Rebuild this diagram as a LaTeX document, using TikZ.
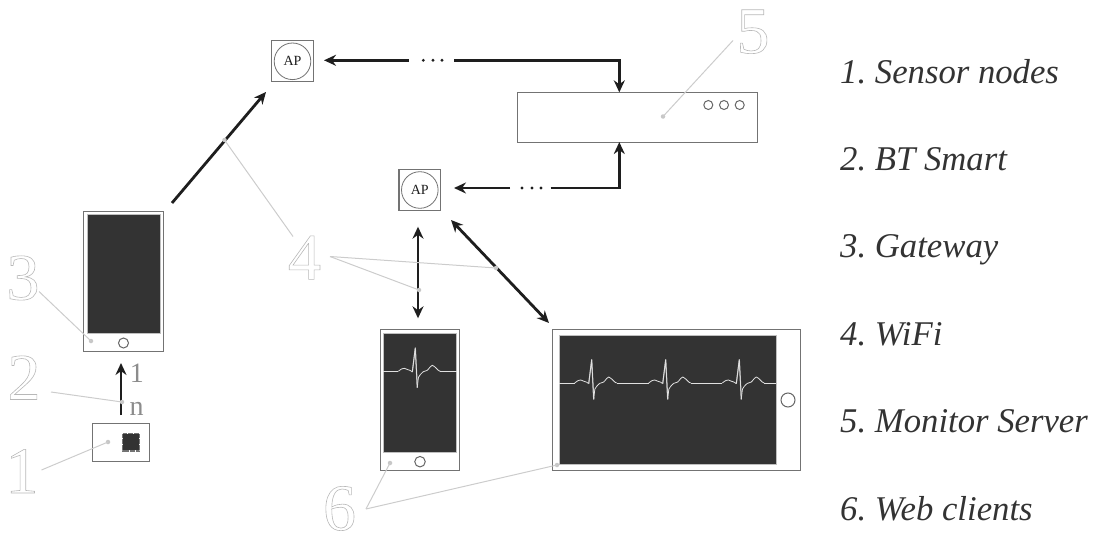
\documentclass[tikz,border=0pt]{standalone}
\usepackage{fontspec}
\setmainfont{Liberation Serif}
\usetikzlibrary{arrows.meta}
\frenchspacing
\newcommand\outlinedigit[1]{\special{pdf:code q 1 Tr 0.6 w 0.72 0.72 0.72 RG}#1\special{pdf:code Q}}
\definecolor{screen}{HTML}{333333}
\definecolor{ink}{HTML}{1E1E1E}
\tikzset{
  box/.style={draw=black!55,line width=1.1pt,fill=white,inner sep=0pt,outer sep=0pt,rectangle},
  screenbox/.style={fill=screen,draw=black!25,line width=.6pt,inner sep=0pt,outer sep=0pt,rectangle},
  knob/.style={circle,draw=black!60,line width=1pt,fill=white,inner sep=0pt,outer sep=0pt},
  apcircle/.style={circle,draw=black!55,line width=.8pt,inner sep=0pt,outer sep=0pt,minimum size=36.6pt,font=\fontsize{14}{14}\selectfont,text=ink},
  link/.style={draw=ink,line width=2.8pt,-{Stealth[length=12pt,width=11pt]}},
  both/.style={draw=ink,line width=2.8pt,{Stealth[length=12pt,width=11pt]}-{Stealth[length=12pt,width=11pt]}},
  leader/.style={draw=black!20,line width=1pt},
  leaderdot/.style={circle,fill=black!22,inner sep=0pt,minimum size=4.5pt},
  gapdot/.style={circle,fill=ink,inner sep=0pt,minimum size=3.2pt},
  bignum/.style={font=\fontsize{66}{66}\selectfont,anchor=base,inner sep=0pt},
  legend/.style={font=\fontsize{34.7}{36}\itshape\selectfont,text=black!80,anchor=base west,inner sep=0pt},
  card/.style={font=\fontsize{28}{28}\selectfont,text=black!45,anchor=base,inner sep=0pt},
  ecg/.style={draw=black!12,line width=.8pt,line join=round}
}
\newcommand\ecgbeat[2]{%
  \begin{scope}[shift={(#1,#2)}]
    \draw[ecg] plot[smooth,tension=.3] coordinates {(-17,0)(-14,-2.2)(-11,-3)(-8,-1.8)(-5,-.8)(-3,.7)};
    \draw[ecg,line width=1.2pt,draw=black!35] (-3,.7) -- (0,-23.3) -- (2,16.3);
    \draw[ecg] (-3,.7) -- (0,-23.3) -- (2,16.3);
    \draw[ecg] plot[smooth,tension=.4] coordinates {(2,16.3)(3.2,6)(5,3.3)(8,.4)(12,-1)(15,-4.5)(17,-6)(20,-4)(23,-1)(25,0)};
  \end{scope}}
\begin{document}
\begin{tikzpicture}[x=1pt,y=-1pt]
\useasboundingbox (0,0) rectangle (1095,535);
% gateway phone
\node[box,minimum width=80.2pt,minimum height=140pt] (gw) at (123.6,281.7) {};
\node[screenbox,minimum width=73.5pt,minimum height=119pt] (gwscreen) at (123.7,274.2) {};
\node[knob,minimum size=10pt] (gwknob) at (123.5,343) {};
% sensor
\node[box,minimum width=57.4pt,minimum height=38.4pt] (sensor) at (121,442.5) {};
\draw[black!55,line width=1.6pt,dash pattern=on .6pt off .6pt] (122.5,433.8) rectangle (139.5,450.8);
\node[fill=screen,inner sep=0pt,minimum size=16pt] (chip) at (131,442.3) {};
\coordinate (btfrom) at (121,415);
\coordinate (btto) at (121,363);
\draw[link] (btfrom) -- (btto);
\node[card] (cardone) at (136.8,382.7) {1};
\node[card] (cardn) at (136.5,415.7) {n};
% access points
\node[box,minimum width=41.6pt,minimum height=41pt] (apone) at (292.5,61.2) {};
\node[apcircle] (aponec) at (292.5,61.3) {AP};
\node[box,minimum width=41.7pt,minimum height=41.4pt] (aptwo) at (419.8,190) {};
\node[apcircle] (aptwoc) at (419.8,190) {AP};
% server
\node[box,minimum width=240pt,minimum height=49.7pt] (server) at (637.3,117.2) {};
\node[knob,minimum size=9pt] (srva) at (708.3,105) {};
\node[knob,minimum size=9pt] (srvb) at (724,105) {};
\node[knob,minimum size=9pt] (srvc) at (739.7,105) {};
% web phone
\node[box,minimum width=79.7pt,minimum height=141pt] (phone) at (419.9,399.8) {};
\node[screenbox,minimum width=73.4pt,minimum height=119pt] (phonescreen) at (420,392.8) {};
\node[knob,minimum size=10.5pt] (phoneknob) at (420,461.7) {};
\draw[ecg] (383.3,371.3) -- (398.3,371.3);
\draw[ecg] (440.3,371.3) -- (456.7,371.3);
\ecgbeat{415.3}{371.3}
% tablet
\node[box,minimum width=248.4pt,minimum height=141pt] (tablet) at (676.5,399.8) {};
\node[screenbox,minimum width=217pt,minimum height=128.6pt] (tabletscreen) at (667.5,400) {};
\node[knob,minimum size=14pt] (tabletknob) at (788,400) {};
\draw[ecg] (559,383) -- (574.7,383);
\draw[ecg] (616.7,383) -- (648.7,383);
\draw[ecg] (690.7,383) -- (722.3,383);
\draw[ecg] (764.3,383) -- (776,383);
\ecgbeat{591.7}{383}
\ecgbeat{665.7}{383}
\ecgbeat{739.3}{383}
% wifi links
\coordinate (gwout) at (172,203);
\coordinate (aponein) at (266,92);
\draw[link] (gwout) -- (aponein);
\coordinate (aponetip) at (324,60.3);
\coordinate (gapa) at (408.7,60.3);
\coordinate (gapb) at (454,60.3);
\coordinate (corna) at (619.3,60.3);
\coordinate (aptwotip) at (454,188);
\coordinate (gapc) at (510,188);
\coordinate (gapd) at (550.7,188);
\coordinate (cornb) at (619.3,188);
\draw[link] (gapa) -- (aponetip);
\draw[link] (gapb) -- (corna) -- (corna |- server.north);
\draw[link] (gapc) -- (aptwotip);
\draw[link] (gapd) -- (cornb) -- (cornb |- server.south);
\node[gapdot] (da) at (423.3,60.3) {};
\node[gapdot] (db) at (433,60.3) {};
\node[gapdot] (dc) at (442,60.3) {};
\node[gapdot] (dd) at (522,188) {};
\node[gapdot] (de) at (532,188) {};
\node[gapdot] (df) at (541,188) {};
\coordinate (vt) at (418,226.7);
\coordinate (vb) at (418,318.3);
\draw[both] (vt) -- (vb);
\coordinate (dt) at (451,220);
\coordinate (db2) at (549,323);
\draw[both] (dt) -- (db2);
% leaders
\node[leaderdot] (l1) at (108,442) {};
\node[leaderdot] (l3) at (91,341) {};
\node[leaderdot] (l2) at (122,402) {};
\node[leaderdot] (l4a) at (224.5,140) {};
\node[leaderdot] (l4b) at (419,290) {};
\node[leaderdot] (l4c) at (496,268) {};
\node[leaderdot] (l5) at (663,116.5) {};
\node[leaderdot] (l6a) at (390,463) {};
\node[leaderdot] (l6b) at (557,465) {};
\coordinate (c1) at (41.5,470);
\coordinate (c2) at (51,392);
\coordinate (c3) at (39,291.5);
\coordinate (c4a) at (293,236.5);
\coordinate (c4b) at (330,256.5);
\coordinate (c5) at (733,40.5);
\coordinate (c6) at (366,509);
\draw[leader] (c1) -- (l1.center);
\draw[leader] (c2) -- (l2.center);
\draw[leader] (c3) -- (l3.center);
\draw[leader] (c4a) -- (l4a.center);
\draw[leader] (c4b) -- (l4b.center);
\draw[leader] (c4b) -- (l4c.center);
\draw[leader] (c5) -- (l5.center);
\draw[leader] (c6) -- (l6a.center);
\draw[leader] (c6) -- (l6b.center);
% big numerals
\node[bignum] (none) at (22,493) {\outlinedigit{1}};
\node[bignum] (ntwo) at (24,399.5) {\outlinedigit{2}};
\node[bignum] (nthree) at (23,299.5) {\outlinedigit{3}};
\node[bignum] (nfour) at (304.5,279.3) {\outlinedigit{4}};
\node[bignum] (nfive) at (753,53) {\outlinedigit{5}};
\node[bignum] (nsix) at (339.5,530) {\outlinedigit{6}};
% legend
\node[legend] (ta) at (840,83) {1. Sensor nodes};
\node[legend] (tb) at (840,170.7) {2. BT Smart};
\node[legend] (tc) at (840,257.7) {3. Gateway};
\node[legend] (td) at (840,345.2) {4. WiFi};
\node[legend] (te) at (840,432.7) {5. Monitor Server};
\node[legend] (tf) at (840,520.2) {6. Web clients};
\end{tikzpicture}
\end{document}
